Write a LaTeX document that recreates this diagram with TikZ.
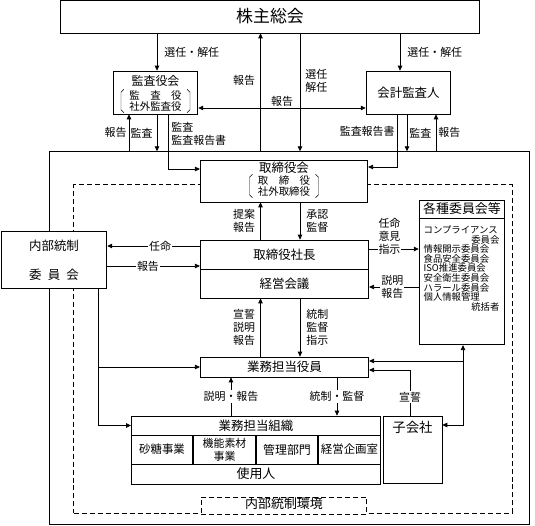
\documentclass[tikz,border=0pt]{standalone}
\usepackage{fontspec}
\setmainfont{Noto Sans CJK JP}
\usetikzlibrary{arrows.meta}

\begin{document}
\begin{tikzpicture}[x=1bp,y=-1bp,>={Triangle[length=5pt,width=4.5pt]},thick,
    kbox/.style={rectangle,draw,fill=white,inner sep=0pt,font=\fontsize{12.5}{14}\selectfont},
    dbox/.style={rectangle,draw,dash pattern=on 5pt off 3pt,inner sep=0pt},
    lbl/.style={inner sep=1pt,align=center,font=\fontsize{11}{13}\selectfont},
    wlbl/.style={lbl,fill=white},
    kakko/.style={inner xsep=8pt,inner ysep=1pt,align=center,font=\fontsize{10.5}{11}\selectfont}]

\useasboundingbox (0,0) rectangle (535,526);

% frames
\node[rectangle,draw,inner sep=0pt] (20)[minimum width=481,minimum height=374] at (289.5,338) {};
\node[dbox] (21)[minimum width=440,minimum height=330] at (293,349) {};

% top part
\node[kbox] (1)[minimum width=420,minimum height=33,font=\fontsize{17}{17}\selectfont] at (270,16.5) {株主総会};
\node[kbox] (2)[minimum width=85,minimum height=43] at (155.5,92.5) {};
\node[] (2a)[font=\fontsize{12}{12}\selectfont] at (155.5,81) {監査役会};
\node[kakko] (2b) at (155.5,101) {\makebox[5em][s]{監\hfil 査\hfil 役}\\社外監査役};
\draw[thin] ([xshift=3pt]2b.north west) -- ([yshift=-3pt]2b.north west) -- ([yshift=3pt]2b.south west) -- ([xshift=3pt]2b.south west);
\draw[thin] ([xshift=-3pt]2b.north east) -- ([yshift=-3pt]2b.north east) -- ([yshift=3pt]2b.south east) -- ([xshift=-3pt]2b.south east);
\node[kbox] (3)[minimum width=85,minimum height=43] at (408.5,92.5) {会計監査人};

% board
\node[kbox] (4)[minimum width=168,minimum height=42] at (284,181) {};
\node[] (4a)[font=\fontsize{12.5}{12.5}\selectfont] at (284,167.5) {取締役会};
\node[kakko] (4b) at (284,186) {\makebox[5em][s]{取\hfil 締\hfil 役}\\社外取締役};
\draw[thin] ([xshift=3pt]4b.north west) -- ([yshift=-3pt]4b.north west) -- ([yshift=3pt]4b.south west) -- ([xshift=3pt]4b.south west);
\draw[thin] ([xshift=-3pt]4b.north east) -- ([yshift=-3pt]4b.north east) -- ([yshift=3pt]4b.south east) -- ([xshift=-3pt]4b.south east);

\node[kbox] (5)[minimum width=106,minimum height=58,align=center,font=\fontsize{12.5}{29}\selectfont] at (54,260) {内部統制\\\makebox[4em][s]{委\hfil 員\hfil 会}};
\node[kbox] (6)[minimum width=169,minimum height=29] at (284.5,254.5) {取締役社長};
\node[kbox] (7)[minimum width=169,minimum height=29] at (284.5,283.5) {経営会議};

\node[kbox] (8)[minimum width=86,minimum height=145] at (462,272.5) {};
\node[kbox] (8a)[minimum width=86,minimum height=18,font=\fontsize{13}{13}\selectfont] at (462,209) {各種委員会等};
\node[inner sep=0pt,align=left,text width=76pt,font=\fontsize{9.4}{9.7}\selectfont] (8b) at (461.5,268.5) {コンプライアンス\\\hfill 委員会\\情報開示委員会\\食品安全委員会\\ISO推進委員会\\安全衛生委員会\\ハラール委員会\\個人情報管理\\\hfill 統括者};

\node[kbox] (9)[minimum width=169,minimum height=20] at (284.5,367) {業務担当役員};

% business organisation
\node[kbox] (10)[minimum width=250,minimum height=19] at (256,425.5) {業務担当組織};
\node[kbox] (11)[minimum width=62,minimum height=29,font=\fontsize{11.5}{13}\selectfont] at (162,449.5) {砂糖事業};
\node[kbox] (12)[minimum width=63,minimum height=29,align=center,font=\fontsize{11}{13}\selectfont] at (224.5,449.5) {機能素材\\事業};
\node[kbox] (13)[minimum width=62,minimum height=29,font=\fontsize{12}{13}\selectfont] at (287,449.5) {管理部門};
\node[kbox] (14)[minimum width=63,minimum height=29,font=\fontsize{11.5}{13}\selectfont] at (349.5,449.5) {経営企画室};
\node[kbox] (15)[minimum width=250,minimum height=20,font=\fontsize{13}{13}\selectfont] at (256,474) {使用人};
\node[kbox] (16)[minimum width=59,minimum height=68] at (412.5,450) {};
\node[] (16a)[font=\fontsize{13.5}{13.5}\selectfont] at (412.5,427) {子会社};
\node[dbox,fill=white] (17)[minimum width=166,minimum height=17] at (284,505.5) {};
\node[] (17a)[inner sep=0pt,font=\fontsize{13}{13}\selectfont] at (284,503.5) {内部統制環境};

% line positions
\coordinate (k1) at (157,0);
\coordinate (k2) at (260.5,0);
\coordinate (k3) at (300,0);
\coordinate (k4) at (400,0);
\coordinate (k5) at (129,0);
\coordinate (k6) at (168,0);
\coordinate (k7) at (397,0);
\coordinate (k8) at (407,0);
\coordinate (k9) at (436,0);
\coordinate (k10) at (98,0);
\coordinate (k11) at (231,0);
\coordinate (k12) at (337,0);
\coordinate (k13) at (410,0);
\coordinate (k14) at (463,0);
\coordinate (h1) at (0,108);
\coordinate (h2) at (0,169);
\coordinate (h3) at (0,167);
\coordinate (h4) at (0,246);
\coordinate (h5) at (0,266);
\coordinate (h6) at (0,249);
\coordinate (h7) at (0,287);
\coordinate (h8) at (0,370);
\coordinate (h9) at (0,425);
\coordinate (h10) at (463,361);

% connectors
\draw[->] (1.south -| k1) -- node[lbl,right=6pt] (30) {選任・解任} (2.north -| k1);
\draw[->] (1.south -| k4) -- node[lbl,right=6pt] (31) {選任・解任} (3.north -| k4);
\draw[->] (20.north -| k2) -- node[lbl,left=4pt,pos=0.6] (32) {報告} (1.south -| k2);
\draw[->] (1.south -| k3) -- node[lbl,right=4pt,pos=0.4] (33) {選任\\解任} (20.north -| k3);
\draw[<->] (2.east |- h1) -- node[lbl,above=0pt] (34) {報告} (3.west |- h1);
\draw[->] (20.north -| k5) -- node[lbl,left=1pt] (35) {報告} (2.south -| k5);
\draw[->] (2.south -| k1) -- node[lbl,left=3pt] (36) {監査} (20.north -| k1);
\draw[->] (2.south -| k6) |- node[lbl,align=left,right=2pt,pos=0.18] (37) {監査\\監査報告書} (4.west |- h2);
\draw[->] (3.south -| k7) |- node[lbl,left=1pt,pos=0.16] (38) {監査報告書} (4.east |- h3);
\draw[->] (3.south -| k8) -- node[lbl,right=1pt] (39) {監査} (20.north -| k8);
\draw[->] (20.north -| k9) -- node[lbl,right=1pt] (40) {報告} (3.south -| k9);

\draw[->] (6.north -| k2) -- node[lbl,left=4pt] (41) {提案\\報告} (4.south -| k2);
\draw[->] (4.south -| k3) -- node[lbl,right=5pt] (42) {承認\\監督} (6.north -| k3);
\draw[->] (6.west |- h4) -- node[wlbl,pos=0.43] (43) {任命} (5.east |- h4);
\draw[->] (5.east |- h5) -- node[wlbl,pos=0.44] (44) {報告} (6.west |- h5);
\draw[->] (6.east |- h6) -- node[wlbl,pos=0.41,yshift=13pt] (45) {任命\\意見\\指示} (8.west |- h6);
\draw[->] (8.west |- h7) -- node[wlbl,pos=0.53] (46) {説明\\報告} (7.east |- h7);
\draw[->] (9.north -| k2) -- node[lbl,left=4pt] (47) {宣誓\\説明\\報告} (7.south -| k2);
\draw[->] (7.south -| k3) -- node[lbl,right=5pt] (48) {統制\\監督\\指示} (9.north -| k3);

\draw[->] (5.south -| k10) |- (10.west);
\draw[->] (9.west -| k10) -- (9.west);
\draw[->] (10.north -| k11) -- node[wlbl] (49) {説明・報告} (9.south -| k11);
\draw[->] (9.south -| k12) -- node[wlbl] (50) {統制・監督} (10.north -| k12);
\draw[->] (16.north -| k13) |- node[wlbl,pos=0.2] (51) {宣誓} (9.east |- h8);
\draw[<->] (16.east |- h9) -| (8.south -| k14);
\draw[->] (h10) -- (9.east |- h10);
\end{tikzpicture}
\end{document}
